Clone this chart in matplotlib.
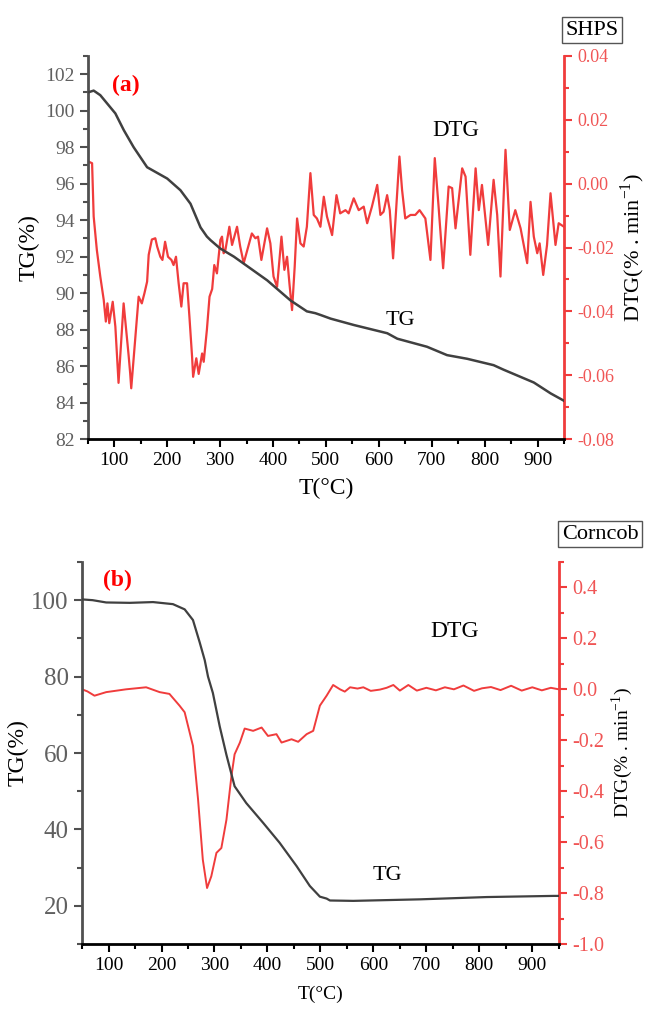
import matplotlib
matplotlib.use('Agg')
import matplotlib.pyplot as plt
from matplotlib.ticker import MultipleLocator

plt.rcParams['font.family'] = ['Liberation Serif', 'DejaVu Serif']
plt.rcParams['mathtext.fontset'] = 'custom'
plt.rcParams['mathtext.rm'] = 'Liberation Serif'
plt.rcParams['axes.unicode_minus'] = False

# ---- (a) SHPS ----
t_tg_a = [50, 61, 73.5, 102, 118, 136.5, 162, 200, 225, 244, 263, 275, 282, 300,
          326, 389, 433, 464, 480, 490, 509, 553, 616, 635, 691, 729, 767, 817,
          836, 893, 925, 950]
tg_a = [101.0, 101.1, 100.85, 99.85, 98.93, 98.0, 96.9, 96.28, 95.64, 94.9, 93.6,
        93.1, 92.9, 92.45, 92.0, 90.7, 89.6, 89.0, 88.9, 88.8, 88.6, 88.25, 87.8,
        87.5, 87.06, 86.6, 86.4, 86.05, 85.8, 85.1, 84.5, 84.1]

t_dtg_a = [50, 51.4, 58, 61, 67, 73.5, 80, 84, 87, 90.5, 97, 102, 108, 117.6, 127,
           130, 132, 140, 146, 152, 157, 162, 165, 171, 177.5, 181, 187, 191, 196,
           201.5, 208, 212, 216.6, 221.6, 226.7, 231, 237.5, 242, 247, 249, 255,
           259.5, 266, 269, 275, 280, 285, 289, 294, 300.5, 303.6, 306.7, 310,
           317.5, 322.6, 332, 338, 344.6, 354, 360, 366.7, 371.7, 378, 388.8, 395,
           401, 407.7, 416, 421.5, 426.6, 431, 436, 441, 445.5, 451.8, 458, 464,
           470.7, 477, 483, 489.6, 496, 502, 511.7, 520, 527, 537, 543, 552.6, 562,
           571.5, 578, 587, 597, 603, 609, 615.7, 620.7, 627, 633, 639, 644, 650,
           660, 669, 677, 688, 697.6, 705.8, 713, 721.6, 732, 738.6, 745, 757.6,
           764, 773, 783, 789, 795, 806.7, 817, 823.8, 830, 839.5, 847.6, 858, 868,
           880.5, 886.8, 893, 899.5, 904, 910.8, 918, 924.6, 934, 940, 950]
dtg_a = [0.006, 0.0069, 0.0064, -0.0103, -0.0208, -0.0291, -0.0364, -0.0432,
         -0.0375, -0.0437, -0.0370, -0.0448, -0.0624, -0.0375, -0.0537, -0.0594,
         -0.0641, -0.0479, -0.0354, -0.0375, -0.0343, -0.0307, -0.0223, -0.0175,
         -0.0171, -0.0197, -0.0229, -0.0239, -0.0182, -0.0229, -0.0239, -0.0255,
         -0.0229, -0.0312, -0.0385, -0.0312, -0.0312, -0.0417, -0.0542, -0.0605,
         -0.0547, -0.0596, -0.0532, -0.0558, -0.0458, -0.0354, -0.0330, -0.0255,
         -0.0281, -0.0176, -0.0166, -0.0218, -0.0208, -0.0135, -0.0192, -0.0135,
         -0.0197, -0.0249, -0.0192, -0.0156, -0.0171, -0.0166, -0.0239, -0.0140,
         -0.0187, -0.0291, -0.0323, -0.0166, -0.0270, -0.0229, -0.0312, -0.0396,
         -0.0260, -0.0109, -0.0187, -0.0197, -0.0135, 0.0033, -0.0098, -0.0109,
         -0.0135, -0.0041, -0.0103, -0.0161, -0.0036, -0.0093, -0.0083, -0.0093,
         -0.0046, -0.0083, -0.0072, -0.0124, -0.0072, -0.0004, -0.0098, -0.0088,
         -0.0036, -0.0083, -0.0234, -0.0072, 0.0085, -0.0020, -0.0109, -0.0098,
         -0.0098, -0.0083, -0.0109, -0.0239, 0.0080, -0.0072, -0.0265, -0.0009,
         -0.0014, -0.0140, 0.0048, 0.0022, -0.0223, 0.0048, -0.0083, -0.0004,
         -0.0192, 0.0012, -0.0098, -0.0291, 0.0106, -0.0145, -0.0083, -0.0140,
         -0.0249, -0.0057, -0.0166, -0.0218, -0.0187, -0.0286, -0.0192, -0.0030,
         -0.0192, -0.0124, -0.0135]

# ---- (b) Corncob ----
t_tg_b = [50, 70, 95.6, 140, 184, 221.6, 243.7, 259.4, 272, 281.6, 287.8, 297, 310,
          322.6, 338, 360, 392, 423, 455, 480, 499, 511.7, 518, 562, 688, 814, 940,
          950]
tg_b = [100.2, 100.0, 99.4, 99.3, 99.5, 98.96, 97.6, 94.8, 89.0, 84.3, 80.0, 75.7,
        66.9, 59.5, 51.3, 46.9, 41.7, 36.5, 30.4, 25.2, 22.4, 21.9, 21.4, 21.3,
        21.7, 22.3, 22.6, 22.6]

t_dtg_b = [50, 60, 73.5, 95.6, 133, 171, 196.5, 215, 234, 243.7, 259.4, 269, 278,
           286, 294, 303.7, 313, 322.6, 332, 338, 348, 357, 373, 389, 401, 417,
           426.6, 445.5, 458, 474, 486.4, 499, 511.7, 524, 537, 546, 556, 570, 581,
           595, 612.5, 625, 637.7, 650, 666, 682, 700, 718, 735, 752, 770, 790, 805,
           822, 840, 860, 880, 900, 918, 935, 950]
dtg_b = [0.0, -0.008, -0.025, -0.011, 0.0, 0.008, -0.011, -0.018, -0.064, -0.09,
         -0.222, -0.432, -0.669, -0.780, -0.734, -0.642, -0.623, -0.512, -0.341,
         -0.255, -0.209, -0.154, -0.163, -0.150, -0.183, -0.176, -0.209, -0.196,
         -0.206, -0.176, -0.163, -0.064, -0.025, 0.017, 0.0, -0.009, 0.008, 0.003,
         0.008, -0.006, -0.001, 0.006, 0.017, -0.005, 0.017, -0.005, 0.006, -0.004,
         0.008, 0.0, 0.015, -0.006, 0.004, 0.009, -0.003, 0.014, -0.005, 0.008,
         -0.004, 0.006, 0.0]

GREY = '#404040'
RED = '#f03c3c'
RED_TXT = '#f05555'
TICK_GREY = '#606060'

fig = plt.figure(figsize=(6.46, 10.10), dpi=100)


def style_panel(ax, ax2, left_size, right_size):
    for a in (ax, ax2):
        a.spines['top'].set_visible(False)
    ax.spines['right'].set_visible(False)
    ax2.spines['left'].set_visible(False)
    ax2.spines['bottom'].set_visible(False)
    ax.spines['left'].set_color('#505050')
    ax.spines['left'].set_linewidth(2)
    ax.spines['bottom'].set_color('black')
    ax.spines['bottom'].set_linewidth(2)
    ax2.spines['right'].set_color(RED)
    ax2.spines['right'].set_linewidth(2)
    ax.tick_params(axis='y', which='both', direction='out', colors='#505050',
                   labelcolor=TICK_GREY, width=1.5, labelsize=left_size)
    ax.tick_params(axis='x', which='both', direction='out', colors='black',
                   width=1.5, labelsize=14)
    ax.tick_params(which='major', length=6)
    ax.tick_params(which='minor', length=3.5)
    ax2.tick_params(axis='y', which='both', direction='out', colors=RED,
                    labelcolor=RED_TXT, width=1.5, labelsize=right_size)
    ax2.tick_params(which='major', length=6)
    ax2.tick_params(which='minor', length=3.5)
    ax.set_xlim(50, 950)
    ax.xaxis.set_minor_locator(MultipleLocator(50))
    ax.set_xticks([100, 200, 300, 400, 500, 600, 700, 800, 900])


# panel (a)
ax1 = fig.add_axes([0.136, 0.5653, 0.737, 0.3793])
ax1b = ax1.twinx()
ax1.plot(t_tg_a, tg_a, color=GREY, lw=1.8, zorder=3)
ax1b.plot(t_dtg_a, dtg_a, color=RED, lw=1.6)
ax1.set_zorder(ax1b.get_zorder() + 1)
ax1.patch.set_visible(False)
style_panel(ax1, ax1b, 14, 13)
ax1.set_ylim(82, 103)
ax1.set_yticks(range(82, 103, 2))
ax1.yaxis.set_minor_locator(MultipleLocator(1))
ax1b.set_ylim(-0.08, 0.04)
ax1b.set_yticks([-0.08, -0.06, -0.04, -0.02, 0.0, 0.02, 0.04])
ax1b.set_yticklabels(['-0.08', '-0.06', '-0.04', '-0.02', '0.00', '0.02', '0.04'])
ax1b.yaxis.set_minor_locator(MultipleLocator(0.01))
ax1.set_xlabel('T(°C)', fontsize=17, labelpad=6)
ax1.set_ylabel('TG(%)', fontsize=17, labelpad=4)
ax1b.set_ylabel(r'DTG(% . min$^{\mathregular{-1}}$)', fontsize=16, labelpad=3)
ax1.text(121, 101.4, '(a)', color='red', fontsize=17, fontweight='bold',
         ha='center', va='center')
ax1.text(745, 98.9, 'DTG', fontsize=16.5, ha='center', va='center')
ax1.text(641, 88.5, 'TG', fontsize=16, ha='center', va='center')
fig.text(0.917, 0.970, 'SHPS', fontsize=16, ha='center', va='center',
         bbox=dict(boxstyle='square,pad=0.15', fc='white', ec='#555555', lw=1))

# panel (b)
ax2 = fig.add_axes([0.127, 0.0653, 0.738, 0.3783])
ax2b = ax2.twinx()
ax2.plot(t_tg_b, tg_b, color=GREY, lw=1.6, zorder=3)
ax2b.plot(t_dtg_b, dtg_b, color=RED, lw=1.4)
ax2.set_zorder(ax2b.get_zorder() + 1)
ax2.patch.set_visible(False)
style_panel(ax2, ax2b, 18, 14.5)
ax2.set_ylim(10, 110)
ax2.set_yticks([20, 40, 60, 80, 100])
ax2.yaxis.set_minor_locator(MultipleLocator(10))
ax2b.set_ylim(-1.0, 0.5)
ax2b.set_yticks([-1.0, -0.8, -0.6, -0.4, -0.2, 0.0, 0.2, 0.4])
ax2b.yaxis.set_minor_locator(MultipleLocator(0.1))
ax2.set_xlabel('T(°C)', fontsize=14, labelpad=8)
ax2.set_ylabel('TG(%)', fontsize=17, labelpad=2)
ax2b.set_ylabel(r'DTG(% . min$^{\mathregular{-1}}$)', fontsize=14, labelpad=4)
ax2.text(117, 105.2, '(b)', color='red', fontsize=17, fontweight='bold',
         ha='center', va='center')
ax2.text(754, 91.7, 'DTG', fontsize=17, ha='center', va='center')
ax2.text(626, 28, 'TG', fontsize=16, ha='center', va='center')
fig.text(0.929, 0.471, 'Corncob', fontsize=16, ha='center', va='center',
         bbox=dict(boxstyle='square,pad=0.15', fc='white', ec='#555555', lw=1))

fig.savefig('out.png', dpi=100)
